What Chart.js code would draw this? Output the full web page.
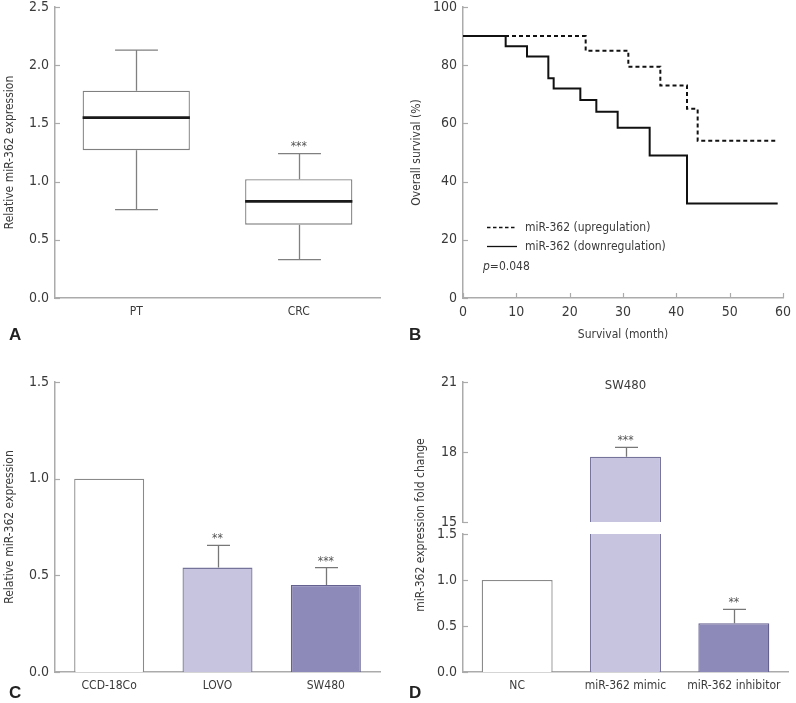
<!DOCTYPE html>
<html>
<head>
<meta charset="utf-8">
<script src="https://cdn.jsdelivr.net/npm/chart.js@4.4.1/dist/chart.umd.min.js"></script>
<style>
  body { margin: 0; background: #fff; }
  #page { position: relative; width: 796px; height: 703px; overflow: hidden; background: #fff;
          font-family: "Liberation Sans Narrow", "DejaVu Sans Condensed", Roboto, sans-serif; color: #3a3a3a; }
  canvas { position: absolute; }
  .letter { position: absolute; font-family: "Liberation Sans", Arial, sans-serif; font-weight: bold;
            font-size: 17px; line-height: 17px; color: #222; }
  #dTitle { position: absolute; left: 295px; top: 516px; width: 250px; height: 18px; line-height: 18px;
            text-align: center; font-size: 12px; transform: rotate(-90deg); transform-origin: 50% 50%; }
</style>
</head>
<body>
<div id="page">
  <canvas id="chartA" width="398" height="345" style="left:0;top:0"></canvas>
  <canvas id="chartB" width="396" height="345" style="left:400px;top:0"></canvas>
  <canvas id="chartC" width="398" height="358" style="left:0;top:345px"></canvas>
  <canvas id="chartDTop" width="396" height="185" style="left:400px;top:345px"></canvas>
  <canvas id="chartDBottom" width="396" height="178" style="left:400px;top:525px"></canvas>
  <div id="dTitle">miR-362 expression fold change</div>
  <div class="letter" style="left:9px;top:326px">A</div>
  <div class="letter" style="left:409px;top:326px">B</div>
  <div class="letter" style="left:9px;top:684px">C</div>
  <div class="letter" style="left:409px;top:684px">D</div>
</div>
<script>
// A: box plot, tumour vs. adjacent tissue
var boxGroups = ['PT', 'CRC'];
var boxMin = [0.76, 0.33];
var boxQ1 = [1.27, 0.63];
var boxMedian = [1.55, 0.83];
var boxQ3 = [1.78, 1.02];
var boxMax = [2.13, 1.24];
var boxStars = ['', '***'];

// B: Kaplan-Meier curves
var upMonths = [0, 23, 31, 37, 42, 44, 59];
var upSurvival = [90, 85, 79.5, 73, 65, 54, 54];
var downMonths = [0, 8, 12, 16, 17, 22, 25, 29, 35, 42, 59];
var downSurvival = [90, 86.5, 83, 75.5, 72, 68, 64, 58.5, 49, 32.5, 32.5];
var kmLabels = ['miR-362 (upregulation)', 'miR-362 (downregulation)'];
var pText = '=0.048';

// C: cell lines
var cellLines = ['CCD-18Co', 'LOVO', 'SW480'];
var cellValues = [1.0, 0.54, 0.45];
var cellErrors = [0, 0.115, 0.09];
var cellStars = ['', '**', '***'];

// D: SW480 transfection
var groups = ['NC', 'miR-362 mimic', 'miR-362 inhibitor'];
var groupValues = [1.0, 17.8, 0.53];
var groupErrors = [0, 0.4, 0.15];
var groupStars = ['', '***', '**'];

var FONT = '"Liberation Sans Narrow", "DejaVu Sans Condensed", Roboto, sans-serif';
var AXIS = '#ababab';
var TEXT = '#3a3a3a';
var LIGHT = '#c6c4de';
var DARK = '#8d89b9';

Chart.defaults.font.family = FONT;
Chart.defaults.color = TEXT;
Chart.defaults.animation = false;
Chart.defaults.plugins.legend.display = false;
Chart.defaults.plugins.tooltip.enabled = false;

function yAxis(min, max, step, width, dec, title, titlePad) {
    return {
        min: min, max: max,
        grid: { display: false, drawTicks: false },
        border: { color: AXIS, width: 1.5 },
        ticks: { stepSize: step, padding: 6, color: TEXT, font: { size: 14 },
                 callback: function (v) { return v.toFixed(dec); } },
        title: { display: !!title, text: title, color: TEXT, font: { size: 12 }, padding: { top: titlePad } },
        afterFit: function (s) { s.width = width; s.paddingTop = 0; s.paddingBottom = 0; }
    };
}
function xCategory(height, show) {
    return {
        display: show,
        grid: { display: false, drawTicks: false },
        border: { color: AXIS, width: 1.5 },
        ticks: { padding: 7, color: TEXT, font: { size: 12 } },
        afterFit: function (s) { s.height = height; s.paddingLeft = 0; s.paddingRight = 0; }
    };
}

// small tick marks drawn on the inside of the axes
var innerTicks = {
    id: 'innerTicks',
    afterDraw: function (chart, args, opts) {
        var ctx = chart.ctx, a = chart.chartArea;
        ctx.save();
        ctx.strokeStyle = AXIS;
        ctx.lineWidth = 1.2;
        if (opts.y) {
            var ys = chart.scales.y;
            ys.ticks.forEach(function (t) {
                var p = Math.round(ys.getPixelForValue(t.value)) + 0.5;
                ctx.beginPath(); ctx.moveTo(a.left, p); ctx.lineTo(a.left + 5, p); ctx.stroke();
            });
        }
        if (opts.x) {
            var xs = chart.scales.x;
            xs.ticks.forEach(function (t) {
                var p = Math.round(xs.getPixelForValue(t.value)) + 0.5;
                ctx.beginPath(); ctx.moveTo(p, a.bottom); ctx.lineTo(p, a.bottom - 5); ctx.stroke();
            });
        }
        ctx.restore();
    }
};

function drawStars(ctx, text, x, y) {
    ctx.fillStyle = '#555';
    ctx.font = '12px ' + FONT;
    ctx.textAlign = 'center';
    ctx.textBaseline = 'alphabetic';
    ctx.fillText(text, x, y);
}

// whiskers, caps and median for the box plot
var boxWhiskers = {
    id: 'boxWhiskers',
    afterDatasetsDraw: function (chart) {
        var ctx = chart.ctx, y = chart.scales.y, meta = chart.getDatasetMeta(0);
        ctx.save();
        meta.data.forEach(function (bar, i) {
            var x = Math.round(bar.x) + 0.5, half = bar.width / 2, cap = bar.width * 0.2;
            var pMin = y.getPixelForValue(boxMin[i]), pMax = y.getPixelForValue(boxMax[i]);
            var pQ1 = y.getPixelForValue(boxQ1[i]), pQ3 = y.getPixelForValue(boxQ3[i]);
            var pMed = y.getPixelForValue(boxMedian[i]);
            ctx.strokeStyle = '#808080';
            ctx.lineWidth = 1.3;
            ctx.beginPath();
            ctx.moveTo(x, pQ3); ctx.lineTo(x, pMax);
            ctx.moveTo(x - cap, pMax); ctx.lineTo(x + cap, pMax);
            ctx.moveTo(x, pQ1); ctx.lineTo(x, pMin);
            ctx.moveTo(x - cap, pMin); ctx.lineTo(x + cap, pMin);
            ctx.stroke();
            ctx.strokeStyle = '#1a1a1a';
            ctx.lineWidth = 2.6;
            ctx.beginPath();
            ctx.moveTo(bar.x - half, pMed); ctx.lineTo(bar.x + half, pMed);
            ctx.stroke();
            if (boxStars[i]) drawStars(ctx, boxStars[i], bar.x, pMax - 4);
        });
        ctx.restore();
    }
};

// one-sided error bars and significance stars
var errorBars = {
    id: 'errorBars',
    afterDatasetsDraw: function (chart, args, opts) {
        var ctx = chart.ctx, y = chart.scales.y, a = chart.chartArea, meta = chart.getDatasetMeta(0);
        ctx.save();
        ctx.beginPath();
        ctx.rect(a.left, a.top - 1, a.right - a.left, a.bottom - a.top + 2);
        ctx.clip();
        meta.data.forEach(function (bar, i) {
            var v = opts.values[i], e = opts.errors[i];
            var x = Math.round(bar.x) + 0.5;
            var top = y.getPixelForValue(v + e), base = y.getPixelForValue(v);
            if (e > 0) {
                ctx.strokeStyle = '#777';
                ctx.lineWidth = 1.3;
                ctx.beginPath();
                ctx.moveTo(x, base); ctx.lineTo(x, top);
                ctx.moveTo(x - 11.5, top); ctx.lineTo(x + 11.5, top);
                ctx.stroke();
            }
            if (opts.stars[i]) drawStars(ctx, opts.stars[i], bar.x, top - 3);
        });
        ctx.restore();
    }
};

// legend + p value inside panel B
var kmLegend = {
    id: 'kmLegend',
    afterDraw: function (chart) {
        var ctx = chart.ctx, a = chart.chartArea;
        ctx.save();
        ctx.strokeStyle = '#111';
        ctx.lineWidth = 1.3;
        ctx.setLineDash([3.5, 2.5]);
        ctx.beginPath(); ctx.moveTo(a.left + 24, 227.5); ctx.lineTo(a.left + 54, 227.5); ctx.stroke();
        ctx.setLineDash([]);
        ctx.beginPath(); ctx.moveTo(a.left + 24, 246.5); ctx.lineTo(a.left + 54, 246.5); ctx.stroke();
        ctx.fillStyle = TEXT;
        ctx.font = '12px ' + FONT;
        ctx.textAlign = 'left';
        ctx.textBaseline = 'middle';
        ctx.fillText(kmLabels[0], a.left + 62, 228);
        ctx.fillText(kmLabels[1], a.left + 62, 247);
        ctx.font = 'italic 12px ' + FONT;
        ctx.fillText('p', a.left + 20, 267);
        var w = ctx.measureText('p').width;
        ctx.font = '12px ' + FONT;
        ctx.fillText(pText, a.left + 20 + w, 267);
        ctx.restore();
    }
};

// "SW480" heading of panel D
var panelHeading = {
    id: 'panelHeading',
    afterDraw: function (chart, args, opts) {
        var ctx = chart.ctx, a = chart.chartArea;
        ctx.save();
        ctx.fillStyle = TEXT;
        ctx.font = '13px ' + FONT;
        ctx.textAlign = 'center';
        ctx.textBaseline = 'middle';
        ctx.fillText(opts.text, (a.left + a.right) / 2, a.top + 4);
        ctx.restore();
    }
};

// ---- A
new Chart(document.getElementById('chartA'), {
    type: 'bar',
    data: {
        labels: boxGroups,
        datasets: [{
            data: boxQ1.map(function (q, i) { return [q, boxQ3[i]]; }),
            backgroundColor: '#fff',
            borderColor: '#808080',
            borderWidth: 1.3,
            borderSkipped: false,
            barPercentage: 0.66,
            categoryPercentage: 1
        }]
    },
    options: {
        responsive: false,
        layout: { autoPadding: false, padding: { top: 7, right: 18, bottom: 0, left: 0 } },
        scales: {
            x: xCategory(47, true),
            y: yAxis(0, 2.5, 0.5, 55, 1, 'Relative miR-362 expression', 3)
        },
        plugins: { innerTicks: { y: true } }
    },
    plugins: [innerTicks, boxWhiskers]
});

// ---- B
new Chart(document.getElementById('chartB'), {
    type: 'line',
    data: {
        datasets: [{
            data: upMonths.map(function (m, i) { return { x: m, y: upSurvival[i] }; }),
            borderColor: '#111',
            borderWidth: 2,
            borderDash: [4, 3],
            stepped: true,
            pointRadius: 0,
            fill: false
        }, {
            data: downMonths.map(function (m, i) { return { x: m, y: downSurvival[i] }; }),
            borderColor: '#111',
            borderWidth: 2,
            stepped: true,
            pointRadius: 0,
            fill: false
        }]
    },
    options: {
        responsive: false,
        layout: { autoPadding: false, padding: { top: 7, right: 13, bottom: 0, left: 0 } },
        scales: {
            x: {
                type: 'linear', min: 0, max: 60,
                grid: { display: false, drawTicks: false },
                border: { color: AXIS, width: 1.5 },
                ticks: { stepSize: 10, padding: 6, color: TEXT, font: { size: 14 } },
                title: { display: true, text: 'Survival (month)', color: TEXT, font: { size: 12 }, padding: { bottom: 3 } },
                afterFit: function (s) { s.height = 47; s.paddingLeft = 0; s.paddingRight = 0; }
            },
            y: yAxis(0, 100, 20, 63, 0, 'Overall survival (%)', 10)
        },
        plugins: { innerTicks: { x: true, y: true } }
    },
    plugins: [innerTicks, kmLegend]
});

// ---- C
new Chart(document.getElementById('chartC'), {
    type: 'bar',
    data: {
        labels: cellLines,
        datasets: [{
            data: cellValues,
            backgroundColor: ['#fff', LIGHT, DARK],
            borderColor: ['#8a8a8a', '#75739a', '#64608f'],
            borderWidth: 1.3,
            barPercentage: 0.646,
            categoryPercentage: 1
        }]
    },
    options: {
        responsive: false,
        layout: { autoPadding: false, padding: { top: 37, right: 18, bottom: 0, left: 0 } },
        scales: {
            x: xCategory(31, true),
            y: yAxis(0, 1.5, 0.5, 55, 1, 'Relative miR-362 expression', 3)
        },
        plugins: {
            innerTicks: { y: true },
            errorBars: { values: cellValues, errors: cellErrors, stars: cellStars }
        }
    },
    plugins: [innerTicks, errorBars]
});

// ---- D (broken axis: upper 15-21, lower 0-1.5)
function dDataset() {
    return {
        data: groupValues,
        backgroundColor: ['#fff', LIGHT, DARK],
        borderColor: ['#8a8a8a', '#75739a', '#64608f'],
        borderWidth: 1.3,
        barPercentage: 0.655,
        categoryPercentage: 1,
        clip: 0
    };
}
new Chart(document.getElementById('chartDTop'), {
    type: 'bar',
    data: { labels: groups, datasets: [dDataset()] },
    options: {
        responsive: false,
        layout: { autoPadding: false, padding: { top: 37, right: 8, bottom: 8, left: 0 } },
        scales: {
            x: xCategory(0, false),
            y: yAxis(15, 21, 3, 63, 0, '', 0)
        },
        plugins: {
            innerTicks: { y: true },
            errorBars: { values: groupValues, errors: groupErrors, stars: groupStars },
            panelHeading: { text: 'SW480' }
        }
    },
    plugins: [innerTicks, errorBars, panelHeading]
});
new Chart(document.getElementById('chartDBottom'), {
    type: 'bar',
    data: { labels: groups, datasets: [dDataset()] },
    options: {
        responsive: false,
        layout: { autoPadding: false, padding: { top: 9, right: 8, bottom: 0, left: 0 } },
        scales: {
            x: xCategory(31, true),
            y: yAxis(0, 1.5, 0.5, 63, 1, '', 0)
        },
        plugins: {
            innerTicks: { y: true },
            errorBars: { values: groupValues, errors: groupErrors, stars: groupStars }
        }
    },
    plugins: [innerTicks, errorBars]
});
</script>
</body>
</html>
